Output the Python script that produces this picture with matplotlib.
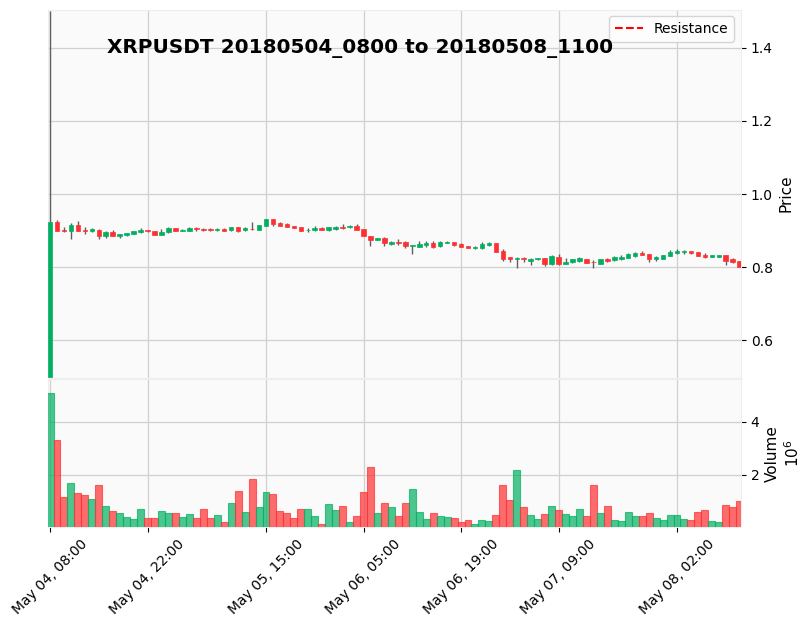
import numpy as np
import pandas as pd
import matplotlib
matplotlib.use("Agg")
import matplotlib.pyplot as plt

symbol = "XRPUSDT"
start_label = "20180504_0800"
end_label = "20180508_1100"

dates = pd.date_range("2018-05-04 08:00", periods=100, freq="h")

opens = [0.500, 0.923, 0.902, 0.900, 0.916, 0.903, 0.898, 0.902, 0.884, 0.897,
         0.886, 0.889, 0.892, 0.896, 0.902, 0.899, 0.889, 0.895, 0.907, 0.900,
         0.900, 0.907, 0.905, 0.905, 0.903, 0.905, 0.902, 0.909, 0.902, 0.905,
         0.902, 0.914, 0.932, 0.921, 0.917, 0.913, 0.911, 0.901, 0.903, 0.908,
         0.902, 0.905, 0.910, 0.909, 0.913, 0.905, 0.886, 0.873, 0.880, 0.864,
         0.870, 0.869, 0.859, 0.856, 0.862, 0.866, 0.857, 0.867, 0.869, 0.864,
         0.858, 0.853, 0.853, 0.861, 0.866, 0.845, 0.828, 0.821, 0.826, 0.817,
         0.821, 0.825, 0.809, 0.828, 0.809, 0.814, 0.817, 0.823, 0.814, 0.809,
         0.823, 0.820, 0.823, 0.825, 0.831, 0.839, 0.836, 0.821, 0.823, 0.831,
         0.839, 0.842, 0.845, 0.842, 0.832, 0.829, 0.829, 0.834, 0.821, 0.817]
highs = [1.500, 0.930, 0.909, 0.920, 0.927, 0.909, 0.907, 0.904, 0.900, 0.901,
         0.891, 0.894, 0.900, 0.907, 0.903, 0.900, 0.905, 0.909, 0.908, 0.905,
         0.910, 0.909, 0.908, 0.908, 0.908, 0.906, 0.909, 0.910, 0.910, 0.924,
         0.916, 0.933, 0.932, 0.923, 0.921, 0.913, 0.911, 0.906, 0.913, 0.909,
         0.910, 0.913, 0.919, 0.916, 0.919, 0.905, 0.886, 0.880, 0.883, 0.872,
         0.878, 0.872, 0.860, 0.872, 0.872, 0.872, 0.872, 0.872, 0.870, 0.866,
         0.858, 0.858, 0.869, 0.869, 0.866, 0.850, 0.828, 0.829, 0.829, 0.826,
         0.825, 0.825, 0.834, 0.836, 0.825, 0.823, 0.828, 0.823, 0.820, 0.823,
         0.825, 0.830, 0.834, 0.838, 0.842, 0.844, 0.836, 0.830, 0.834, 0.847,
         0.850, 0.847, 0.845, 0.842, 0.839, 0.834, 0.834, 0.834, 0.825, 0.817]
lows = [0.500, 0.899, 0.895, 0.878, 0.899, 0.890, 0.897, 0.876, 0.881, 0.884,
        0.881, 0.886, 0.890, 0.894, 0.895, 0.889, 0.888, 0.894, 0.898, 0.899,
        0.900, 0.899, 0.900, 0.900, 0.900, 0.900, 0.900, 0.895, 0.899, 0.903,
        0.902, 0.914, 0.914, 0.914, 0.909, 0.906, 0.898, 0.897, 0.899, 0.901,
        0.900, 0.903, 0.904, 0.907, 0.902, 0.884, 0.857, 0.873, 0.857, 0.860,
        0.861, 0.852, 0.837, 0.854, 0.854, 0.852, 0.855, 0.866, 0.859, 0.856,
        0.853, 0.851, 0.851, 0.859, 0.842, 0.817, 0.813, 0.799, 0.815, 0.806,
        0.820, 0.802, 0.806, 0.806, 0.809, 0.812, 0.815, 0.812, 0.799, 0.809,
        0.815, 0.817, 0.820, 0.824, 0.828, 0.834, 0.815, 0.818, 0.823, 0.831,
        0.836, 0.835, 0.836, 0.831, 0.824, 0.827, 0.829, 0.807, 0.812, 0.801]
closes = [0.923, 0.900, 0.900, 0.916, 0.900, 0.898, 0.905, 0.884, 0.897, 0.884,
          0.891, 0.894, 0.898, 0.902, 0.898, 0.889, 0.897, 0.907, 0.900, 0.903,
          0.908, 0.904, 0.903, 0.903, 0.905, 0.900, 0.909, 0.900, 0.908, 0.904,
          0.916, 0.932, 0.919, 0.914, 0.910, 0.908, 0.900, 0.903, 0.906, 0.902,
          0.910, 0.911, 0.908, 0.914, 0.902, 0.884, 0.873, 0.880, 0.865, 0.869,
          0.865, 0.857, 0.860, 0.864, 0.866, 0.856, 0.869, 0.868, 0.861, 0.856,
          0.853, 0.856, 0.864, 0.866, 0.842, 0.823, 0.821, 0.826, 0.821, 0.823,
          0.825, 0.809, 0.830, 0.809, 0.814, 0.823, 0.825, 0.812, 0.813, 0.823,
          0.817, 0.827, 0.829, 0.835, 0.839, 0.834, 0.821, 0.828, 0.834, 0.842,
          0.845, 0.845, 0.839, 0.831, 0.829, 0.832, 0.834, 0.817, 0.815, 0.801]
# volume in units of 1e6
volumes = [5.08, 3.31, 1.18, 1.70, 1.33, 1.25, 1.08, 1.63, 0.84, 0.65,
           0.58, 0.44, 0.33, 0.73, 0.39, 0.39, 0.65, 0.58, 0.58, 0.44,
           0.54, 0.39, 0.73, 0.39, 0.50, 0.24, 0.95, 1.40, 0.61, 1.85,
           0.78, 1.36, 1.29, 0.65, 0.58, 0.39, 0.73, 0.73, 0.46, 0.16,
           0.91, 0.69, 0.84, 0.24, 0.46, 1.36, 2.30, 0.58, 0.95, 0.78,
           0.46, 0.95, 1.48, 0.61, 0.35, 0.58, 0.46, 0.43, 0.39, 0.24,
           0.31, 0.16, 0.31, 0.28, 0.50, 1.63, 1.06, 2.19, 0.80, 0.50,
           0.35, 0.54, 0.84, 0.69, 0.54, 0.46, 0.73, 0.46, 1.63, 0.58,
           0.84, 0.31, 0.28, 0.61, 0.46, 0.46, 0.58, 0.39, 0.31, 0.50,
           0.50, 0.35, 0.31, 0.61, 0.69, 0.28, 0.24, 0.88, 0.78, 1.03]

tick_times = ["2018-05-04 08:00", "2018-05-04 22:00", "2018-05-05 15:00",
              "2018-05-06 05:00", "2018-05-06 19:00", "2018-05-07 09:00",
              "2018-05-08 02:00"]

up_color = "#00b060"
down_color = "#fe3032"
wick_color = "#606060"

o = np.array(opens)
h = np.array(highs)
l = np.array(lows)
c = np.array(closes)
v = np.array(volumes)
x = np.arange(len(dates))
colors = [up_color if cc >= oo else down_color for oo, cc in zip(o, c)]

fig = plt.figure(figsize=(8.11, 6.27), dpi=100)
ax = fig.add_axes([0.0592, 0.3976, 0.8545, 0.5872])
axv = fig.add_axes([0.0592, 0.1595, 0.8545, 0.2355], sharex=ax)

for a in (ax, axv):
    a.set_facecolor("#fafafa")
    a.grid(True, color="#d0d0d0", linewidth=0.9)
    a.set_axisbelow(True)
    for s in a.spines.values():
        s.set_color("#eeeeee")
    a.yaxis.tick_right()
    a.yaxis.set_label_position("right")

# candles
ax.vlines(x, l, h, color=wick_color, linewidth=1.0, zorder=2)
body_low = np.minimum(o, c)
body_h = np.maximum(np.abs(c - o), 0.0012)
ax.bar(x, body_h, bottom=body_low, width=0.65, color=colors,
       edgecolor=colors, linewidth=0.5, zorder=3)

ax.plot([], [], color="red", linestyle="--", label="Resistance")
ax.legend(loc="upper right", fontsize=10)

rng = h.max() - l.min()
ax.set_ylim(l.min() - 0.0025 * rng, h.max() + 0.005 * rng)
ax.set_yticks([0.6, 0.8, 1.0, 1.2, 1.4])
ax.set_ylabel("Price", fontsize=11)
ax.tick_params(axis="x", length=0, labelbottom=False)

# volume
axv.bar(x, v, width=1.0, color=colors, alpha=0.7, edgecolor=colors,
        linewidth=0.8, zorder=3)
axv.set_ylim(0.3 * v.min(), 1.1 * v.max())
axv.set_yticks([2, 4])
axv.set_ylabel("Volume\n$10^{6}$", fontsize=11)

tick_idx = [dates.get_loc(pd.Timestamp(t)) for t in tick_times]
axv.set_xticks(tick_idx)
axv.set_xticklabels([dates[i].strftime("%b %d, %H:%M") for i in tick_idx],
                    rotation=45)
axv.set_xlim(-0.29, len(x) - 1 + 0.19)

fig.text(0.444, 0.9234, f"{symbol} {start_label} to {end_label}",
         fontsize=14.45, fontweight="bold", ha="center", va="center")

fig.savefig("out.png", dpi=100)
